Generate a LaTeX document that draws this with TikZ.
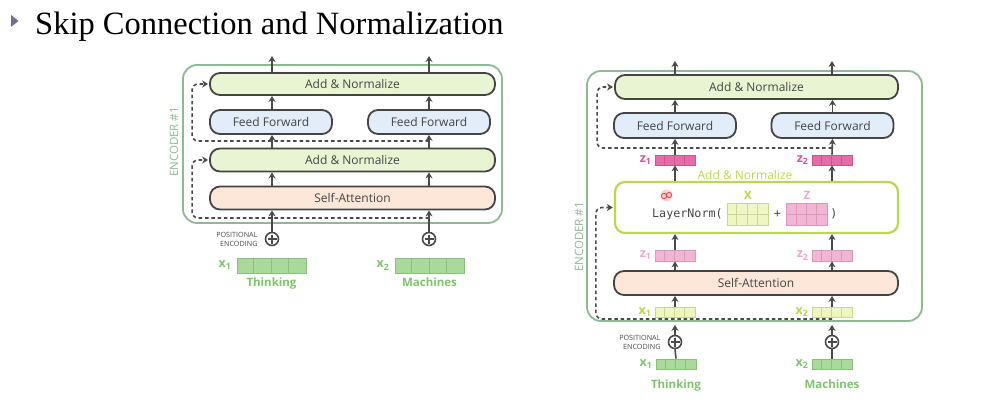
\documentclass[tikz,border=0pt]{standalone}
\usepackage{fontspec}
\setmainfont{Open Sans}
\newfontfamily\titlefont{Liberation Serif}
\newfontfamily\codefont{DejaVu Sans Mono}
\usetikzlibrary{positioning,arrows.meta,calc}

\definecolor{arrowgray}{HTML}{4A4A4A}
\definecolor{boxline}{HTML}{444444}
\definecolor{encgreen}{HTML}{8DB993}
\definecolor{addfill}{HTML}{E9F5D2}
\definecolor{fffill}{HTML}{E2EDF9}
\definecolor{safill}{HTML}{FCE7D9}
\definecolor{wordgreen}{HTML}{7DC46C}
\definecolor{vecgreen}{HTML}{A9D99B}
\definecolor{vecgreenline}{HTML}{8CBF7E}
\definecolor{xyellow}{HTML}{EFF6C4}
\definecolor{xyellowline}{HTML}{C9D78F}
\definecolor{xlabel}{HTML}{BFD245}
\definecolor{zpink}{HTML}{E76AA9}
\definecolor{zpinkline}{HTML}{C9548E}
\definecolor{zlight}{HTML}{F2B6D4}
\definecolor{zlightline}{HTML}{D79AB8}
\definecolor{zlabel}{HTML}{E14F9A}
\definecolor{zlightlabel}{HTML}{F2A5CB}
\definecolor{lngreen}{HTML}{BBD84A}
\definecolor{bullet}{HTML}{6E6E9C}

\tikzset{
  layer/.style={draw=boxline, line width=1.8pt, rounded corners=10pt,
    minimum height=23, text=boxline, font=\fontsize{12}{14}\selectfont},
  addbox/.style={layer, fill=addfill, minimum width=285},
  ffbox/.style={layer, fill=fffill, minimum width=122},
  sabox/.style={layer, fill=safill, minimum width=285},
  encbox/.style={draw=encgreen, line width=1.8pt, rounded corners=14pt},
  enctag/.style={text=encgreen, rotate=90, font=\fontsize{11.5}{12}\selectfont},
  flow/.style={arrowgray, line width=1.6pt, -{Stealth[length=6pt,width=7pt]}},
  flowline/.style={arrowgray, line width=1.6pt},
  skip/.style={flow, dash pattern=on 3.5pt off 2.8pt, rounded corners=6pt, shorten >=1pt},
  posenc/.style={circle, draw=arrowgray, line width=1.6pt, minimum size=13, inner sep=0,
    path picture={\draw[arrowgray, line width=1.6pt]
      (path picture bounding box.center) ++(-4.5,0) -- ++(9,0)
      (path picture bounding box.center) ++(0,-4.5) -- ++(0,9);}},
  postag/.style={align=right, text=arrowgray, inner sep=0,
    font=\fontsize{7.2}{9}\selectfont},
  greencell/.style={draw=vecgreenline, fill=vecgreen, line width=0.8pt, inner sep=0},
  yellowcell/.style={draw=xyellowline, fill=xyellow, line width=0.8pt, inner sep=0},
  pinkcell/.style={draw=zpinkline, fill=zpink, line width=0.8pt, inner sep=0},
  lightcell/.style={draw=zlightline, fill=zlight, line width=0.8pt, inner sep=0},
  veclabel/.style={text=#1, inner sep=0, font=\bfseries\fontsize{12.5}{12}\selectfont},
  word/.style={text=wordgreen, inner sep=1pt, font=\bfseries\fontsize{11.5}{12}\selectfont},
  code/.style={text=boxline, inner sep=0, font=\codefont\fontsize{11.7}{12}\selectfont},
}

% one word vector: name, centre, cell style, cell width, cell height
\newcommand{\wordvec}[5]{%
  \node[#3, minimum width={4*#4}, minimum height=#5] (#1) at (#2) {};
  \foreach \k in {1,2,3}
    \draw[#3] ([xshift={\k*#4}]#1.north west) -- ([xshift={\k*#4}]#1.south west);}
% two stacked vectors
\newcommand{\wordmat}[5]{%
  \wordvec{#1}{#2}{#3}{#4}{#5}
  \draw[#3] (#1.west) -- (#1.east);}

\begin{document}
\begin{tikzpicture}[x=1pt, y=-1pt]
\useasboundingbox (0,0) rectangle (994,420);

% title
\fill[bullet] (11,15) -- (18.5,21) -- (11,27) -- cycle;
\node[anchor=base west, inner sep=0, font=\titlefont\fontsize{32.5}{34}\selectfont]
  (title) at (35,35) {Skip Connection and Normalization};

%% left: encoder with skip connections
\node[encbox, minimum width=319, minimum height=158] (encL) at (342.5,144) {};
\node[enctag] (encLtag) at (174,142) {ENCODER \#1};

\node[addbox, minimum height=22] (anL2) at (352.5,84) {Add \& Normalize};
\node[ffbox, minimum height=24] (ffL1) at (271,122) {Feed Forward};
\node[ffbox, minimum height=24] (ffL2) at (429,122) {Feed Forward};
\node[addbox] (anL1) at (352.5,160) {Add \& Normalize};
\node[sabox] (saL) at (352.5,198) {Self-Attention};

\node[posenc] (plusL1) at (272,239) {};
\node[posenc] (plusL2) at (429,239) {};
\node[postag, left=7pt of plusL1] (posL) {POSITIONAL\\ENCODING};

\wordvec{xL1}{271.5,265.5}{greencell}{17.25}{15}
\wordvec{xL2}{429.5,265.5}{greencell}{17.25}{15}
\node[veclabel=wordgreen, left=5pt of xL1] (xL1tag) {x\textsubscript{1}};
\node[veclabel=wordgreen, left=5pt of xL2] (xL2tag) {x\textsubscript{2}};
\node[word, below=3pt of xL1] (wL1) {Thinking};
\node[word, below=3pt of xL2] (wL2) {Machines};

\coordinate (outL1) at (272,56);
\coordinate (outL2) at (429,56);
\coordinate (skipL1) at (429,218);
\coordinate (skipL2) at (429,141);

\foreach \p/\c in {plusL1/ffL1, plusL2/ffL2}{
  \draw[flow] (\p.north) -- (\p |- saL.south);
  \draw[flow] (\p |- saL.north) -- (\p |- anL1.south);
  \draw[flow] (\p |- anL1.north) -- (\p |- \c.south);
  \draw[flow] (\p |- \c.north) -- (\p |- anL2.south);
}
\draw[flow] (anL2.north -| outL1) -- (outL1);
\draw[flow] (anL2.north -| outL2) -- (outL2);
\draw[skip] (skipL1) -| ([xshift=-17]anL1.west) -- (anL1.west);
\draw[skip] (skipL2) -| ([xshift=-17]anL2.west) -- (anL2.west);

%% right: inside the Add & Normalize layer
\node[encbox, minimum width=335, minimum height=250] (encR) at (754.5,196) {};
\node[enctag] (encRtag) at (579,237) {ENCODER \#1};

\node[addbox, minimum width=283, minimum height=24] (anR) at (756.5,87) {Add \& Normalize};
\node[ffbox, minimum height=25] (ffR1) at (675,125.5) {Feed Forward};
\node[ffbox, minimum height=25] (ffR2) at (832.5,125.5) {Feed Forward};

\wordvec{zR1}{675,160}{pinkcell}{10}{10}
\wordvec{zR2}{832,160}{pinkcell}{10}{10}
\node[veclabel=zlabel, left=3pt of zR1] (zR1tag) {z\textsubscript{1}};
\node[veclabel=zlabel, left=3pt of zR2] (zR2tag) {z\textsubscript{2}};

\node[draw=lngreen, line width=2.2pt, rounded corners=10pt, minimum width=283,
  minimum height=51] (lnR) at (756.5,207.5) {};
\node[text=lngreen, inner sep=0, font=\fontsize{12}{14}\selectfont] (lnRtag)
  at (745,175) {Add \& Normalize};
\node[code, anchor=west] (lnCall) at (652,214) {LayerNorm(};
\wordmat{matX}{747.5,214}{yellowcell}{10.25}{22}
\node[code] (lnPlus) at (777.5,214) {+};
\wordmat{matZ}{807,214}{lightcell}{10.25}{22}
\node[code] (lnClose) at (834,214) {)};
\node[text=xlabel, inner sep=0, font=\bfseries\fontsize{11.5}{12}\selectfont] (matXtag)
  at (748,195) {X};
\node[text=zlightlabel, inner sep=0, font=\bfseries\fontsize{11.5}{12}\selectfont] (matZtag)
  at (807,195) {Z};
\fill[red!25, opacity=0.7] (666.5,195.5) circle (6);
\draw[red!80, line width=0.8pt] (664,196) circle (2.6) (669,195) circle (2.6);

\wordvec{zlR1}{675,255.5}{lightcell}{10}{11}
\wordvec{zlR2}{832,255.5}{lightcell}{10}{11}
\node[veclabel=zlightlabel, left=3pt of zlR1] (zlR1tag) {z\textsubscript{1}};
\node[veclabel=zlightlabel, left=3pt of zlR2] (zlR2tag) {z\textsubscript{2}};

\node[sabox, minimum width=284, minimum height=24] (saR) at (756,283) {Self-Attention};

\wordvec{yR1}{675,312}{yellowcell}{10}{10}
\wordvec{yR2}{832,312}{yellowcell}{10}{10}
\node[veclabel=xlabel, left=3pt of yR1] (yR1tag) {x\textsubscript{1}};
\node[veclabel=xlabel, left=3pt of yR2] (yR2tag) {x\textsubscript{2}};

\node[posenc] (plusR1) at (675,342) {};
\node[posenc] (plusR2) at (832,342) {};
\node[postag, left=7pt of plusR1] (posR) {POSITIONAL\\ENCODING};

\wordvec{xR1}{676,364}{greencell}{10}{10}
\wordvec{xR2}{832,364}{greencell}{10}{10}
\node[veclabel=wordgreen, left=3pt of xR1] (xR1tag) {x\textsubscript{1}};
\node[veclabel=wordgreen, left=3pt of xR2] (xR2tag) {x\textsubscript{2}};
\node[word, below=9pt of xR1] (wR1) {Thinking};
\node[word, below=9pt of xR2] (wR2) {Machines};

\coordinate (outR1) at (675,61);
\coordinate (outR2) at (832,61);
\coordinate (skipR1) at (832,319);
\coordinate (skipR2) at (832,148);

\foreach \p/\n in {1,2}{
  \draw[flowline] (xR\p.north) -- (plusR\p.south);
  \draw[flow, shorten >=3pt] (plusR\p.north) -- (plusR\p |- encR.south);
  \draw[flow] (yR\p.north) -- (yR\p |- saR.south);
  \draw[flow] (yR\p |- saR.north) -- (zlR\p.south);
  \draw[flow] (zlR\p.north) -- (zlR\p |- lnR.south);
  \draw[flow] (zlR\p |- lnR.north) -- (zR\p.south);
  \draw[flow] (zR\p.north) -- (ffR\p.south);
  \draw[flow] (ffR\p.north) -- (ffR\p |- anR.south);
  \draw[flow] (anR.north -| outR\p) -- (outR\p);
}
\draw[skip] (skipR1) -| ([xshift=-18]lnR.west) -- (lnR.west);
\draw[skip] (skipR2) -| ([xshift=-17]anR.west) -- (anR.west);
\end{tikzpicture}
\end{document}
